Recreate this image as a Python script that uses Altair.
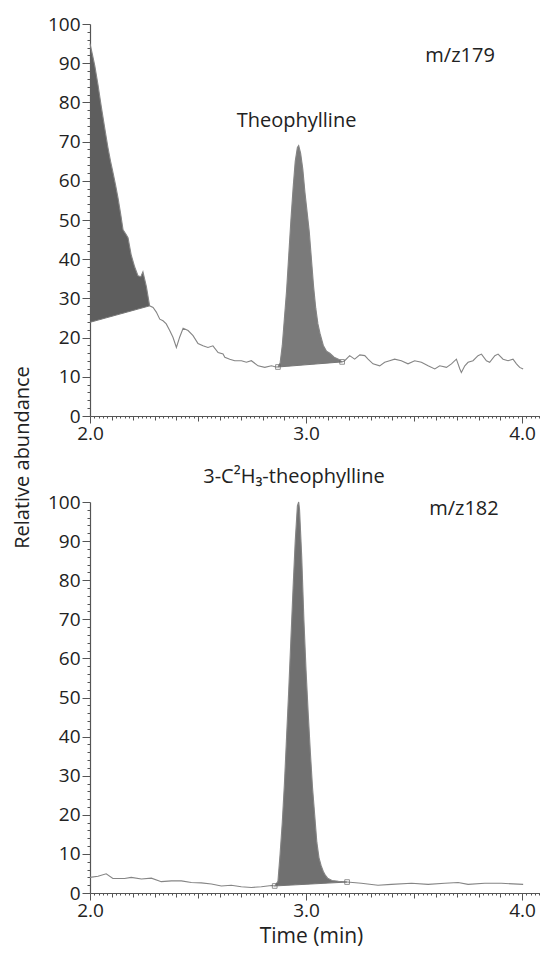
import altair as alt
import pandas as pd

# ---------------- data ----------------
# m/z 179 trace (time in min, relative abundance)
top_t = [2.000, 2.010, 2.022, 2.037, 2.052, 2.068, 2.083, 2.095, 2.106, 2.118,
         2.130, 2.142, 2.153, 2.165, 2.176, 2.191, 2.207, 2.222, 2.235, 2.245,
         2.261, 2.276, 2.292, 2.307, 2.323, 2.338, 2.353, 2.369, 2.384, 2.400,
         2.415, 2.431, 2.454, 2.477, 2.500, 2.523, 2.546, 2.569, 2.593, 2.616,
         2.624, 2.647, 2.670, 2.701, 2.724, 2.747, 2.778, 2.809, 2.840, 2.860,
         2.870, 2.880, 2.890, 2.900, 2.910, 2.920, 2.930, 2.940, 2.950, 2.960,
         2.966, 2.975, 2.985, 2.995, 3.005, 3.015, 3.025, 3.035, 3.045, 3.055,
         3.065, 3.080, 3.095, 3.110, 3.130, 3.150, 3.167, 3.179, 3.202, 3.225,
         3.249, 3.272, 3.287, 3.310, 3.341, 3.364, 3.387, 3.410, 3.441, 3.472,
         3.503, 3.534, 3.565, 3.596, 3.619, 3.650, 3.673, 3.696, 3.712, 3.719,
         3.735, 3.750, 3.773, 3.796, 3.812, 3.835, 3.850, 3.874, 3.889, 3.912,
         3.935, 3.958, 3.974, 3.989, 4.005]
top_v = [95.0, 92.5, 89.4, 84.5, 79.0, 73.5, 68.5, 65.0, 62.2, 59.0,
         55.5, 51.5, 47.5, 46.5, 45.5, 41.0, 38.0, 35.8, 35.5, 36.8,
         33.0, 28.1, 27.7, 26.5, 24.7, 24.3, 23.5, 21.8, 20.1, 17.5,
         20.1, 22.4, 21.8, 20.5, 18.5, 17.9, 17.5, 17.9, 16.2, 15.8,
         15.0, 14.5, 14.1, 14.1, 13.7, 14.1, 12.8, 12.4, 12.8, 12.5,
         12.5, 13.5, 18.0, 25.0, 32.0, 41.0, 50.0, 58.0, 65.0, 68.5,
         69.0, 67.0, 63.0, 57.0, 52.0, 47.0, 40.0, 33.0, 27.5, 23.5,
         21.0, 18.0, 16.5, 16.0, 15.0, 14.5, 13.8, 14.1, 15.4, 14.5,
         15.6, 15.4, 14.5, 13.3, 12.8, 13.7, 14.1, 14.5, 14.1, 13.3,
         14.1, 13.7, 12.8, 12.0, 12.8, 12.4, 13.3, 14.5, 12.0, 11.1,
         12.8, 13.7, 14.1, 15.4, 15.8, 14.1, 13.7, 15.4, 15.8, 14.5,
         14.1, 14.5, 13.3, 12.4, 12.0]

# m/z 182 trace
bot_t = [2.000, 2.037, 2.075, 2.106, 2.160, 2.191, 2.238, 2.284, 2.330, 2.377,
         2.423, 2.469, 2.515, 2.562, 2.608, 2.654, 2.700, 2.747, 2.793, 2.840,
         2.855, 2.870, 2.880, 2.890, 2.900, 2.910, 2.920, 2.930, 2.940, 2.950,
         2.960, 2.966, 2.970, 2.980, 2.990, 3.000, 3.010, 3.020, 3.030, 3.040,
         3.050, 3.060, 3.070, 3.080, 3.090, 3.100, 3.120, 3.150, 3.190, 3.256,
         3.333, 3.395, 3.488, 3.565, 3.642, 3.704, 3.750, 3.827, 3.904, 4.005]
bot_v = [4.0, 4.3, 4.9, 3.7, 3.7, 4.0, 3.6, 3.8, 2.9, 3.1,
         3.1, 2.7, 2.6, 2.3, 1.8, 2.0, 1.6, 1.4, 1.6, 1.9,
         1.8, 3.0, 10.0, 18.0, 28.0, 40.0, 52.0, 65.0, 78.0, 90.0,
         99.0, 100.0, 98.0, 86.0, 70.0, 57.0, 46.0, 36.0, 27.0, 20.0,
         13.0, 9.0, 7.0, 5.5, 4.5, 3.8, 3.2, 3.0, 2.8, 2.5,
         2.0, 2.2, 2.5, 2.2, 2.5, 2.7, 2.2, 2.5, 2.5, 2.2]

# integrated regions: start time, end time, baseline value at start, at end, end markers shown
top_regions = [(2.000, 2.276, 23.9, 28.1, False), (2.870, 3.167, 12.5, 13.8, True)]
bot_regions = [(2.855, 3.190, 1.8, 2.8, True)]
top_fills = ["#5e5e5e", "#7a7a7a"]
bot_fills = ["#707070"]

# annotations: time, abundance, text
top_notes = [(3.713, 90.2, "m/z179"), (2.956, 73.6, "Theophylline")]
bot_notes = [(3.731, 96.7, "m/z182"), (2.944, 104.9, "3-C²H₃-theophylline")]

x_ticks = [round(2.0 + 0.02 * i, 2) for i in range(105)]
y_ticks = list(range(0, 101, 2))

FONT = "Open Sans"
TXT = "#222222"
AX = "#555555"
TRACE = "#858585"

XDOM = [2.0, 4.083]
PLOT_W = 450


def x_axis(show_title):
    kw = dict(
        values=x_ticks,
        labelExpr="abs(datum.value - round(datum.value)) < 0.001 ? format(datum.value, '.1f') : ''",
        labelFlush=False,
        labelOverlap=False,
        labelFont=FONT,
        labelFontSize=19,
        labelColor=TXT,
        labelPadding=1,
        tickColor=AX,
        tickWidth=1,
        domainColor=AX,
        domainWidth=1.2,
        grid=False,
        tickSize={"condition": [
            {"test": "abs(datum.value - round(datum.value)) < 0.001", "value": 7},
            {"test": "abs(datum.value * 2 - round(datum.value * 2)) < 0.001", "value": 5},
            {"test": "abs(datum.value * 10 - round(datum.value * 10)) < 0.001", "value": 4},
        ], "value": 2},
    )
    if show_title:
        kw.update(title="Time (min)", titleFont=FONT, titleFontSize=21, titleFontWeight="normal",
                  titleColor=TXT, titleX=221, titleY=49, titleAlign="center",
                  titleBaseline="alphabetic")
    else:
        kw.update(title=None)
    return alt.Axis(**kw)


def y_axis(show_title):
    kw = dict(
        values=y_ticks,
        labelExpr="datum.value % 10 === 0 ? datum.value : ''",
        labelFlush=False,
        labelOverlap=False,
        labelFont=FONT,
        labelFontSize=19,
        labelColor=TXT,
        labelPadding=2,
        tickColor=AX,
        tickWidth=1,
        domainColor=AX,
        domainWidth=1.2,
        grid=False,
        tickSize={"condition": {"test": "datum.value % 10 === 0", "value": 8}, "value": 3},
    )
    if show_title:
        kw.update(title="Relative abundance", titleFont=FONT, titleFontSize=20,
                  titleFontWeight="normal", titleColor=TXT, titleX=-68, titleY=433,
                  titleAlign="center", titleBaseline="middle", titleAngle=270)
    else:
        kw.update(title=None)
    return alt.Axis(**kw)


def panel(t, v, regions, fills, notes, height, show_xtitle, show_ytitle):
    df = pd.DataFrame({"t": t, "v": v})
    xs = alt.Scale(domain=XDOM, nice=False, zero=False)
    ys = alt.Scale(domain=[0, 100], nice=False, zero=False)
    xa = x_axis(show_xtitle)
    ya = y_axis(show_ytitle)

    def X(f):
        return alt.X(f, scale=xs, axis=xa)

    def Y(f):
        return alt.Y(f, scale=ys, axis=ya)

    layers = []
    for (t0, t1, b0, b1, _mk), fc in zip(regions, fills):
        area = (
            alt.Chart(df)
            .transform_filter(f"datum.t >= {t0 - 1e-9} && datum.t <= {t1 + 1e-9}")
            .transform_calculate(base=f"{b0} + ({b1} - {b0}) * (datum.t - {t0}) / ({t1} - {t0})")
            .mark_area(color=fc, opacity=1, interpolate="linear")
            .encode(x=X("t:Q"), y=Y("v:Q"), y2="base:Q")
        )
        layers.append(area)

    line = alt.Chart(df).mark_line(color=TRACE, strokeWidth=1.1).encode(
        x=X("t:Q"), y=Y("v:Q"))
    layers.append(line)

    rdf = pd.DataFrame(regions, columns=["t0", "t1", "b0", "b1", "mk"])
    rule = alt.Chart(rdf).mark_rule(color="#777777", strokeWidth=1).encode(
        x=X("t0:Q"), x2="t1:Q", y=Y("b0:Q"), y2="b1:Q")
    layers.append(rule)

    mrows = []
    for (t0, t1, b0, b1, mk) in regions:
        if mk:
            mrows.append({"t": t0, "v": b0})
            mrows.append({"t": t1, "v": b1})
    if mrows:
        mk_chart = alt.Chart(pd.DataFrame(mrows)).mark_point(
            shape="square", size=22, filled=False, color="#666666", strokeWidth=1
        ).encode(x=X("t:Q"), y=Y("v:Q"))
        layers.append(mk_chart)

    ndf = pd.DataFrame(notes, columns=["t", "v", "label"])
    txt = alt.Chart(ndf).mark_text(
        font=FONT, fontSize=20, color=TXT, align="center", baseline="alphabetic"
    ).encode(x=X("t:Q"), y=Y("v:Q"), text="label:N")
    layers.append(txt)

    return alt.layer(*layers).properties(width=PLOT_W, height=height)


top = panel(top_t, top_v, top_regions, top_fills, top_notes, 392, False, True)
bot = panel(bot_t, bot_v, bot_regions, bot_fills, bot_notes, 391, True, False)

chart = (
    alt.vconcat(top, bot, spacing=86, bounds="flush")
    .properties(padding={"top": 7, "left": 4, "right": 0, "bottom": 2}, background="white")
    .configure_view(stroke=None)
)

chart.save("out.html", embed_options={"renderer": "svg", "actions": False})
